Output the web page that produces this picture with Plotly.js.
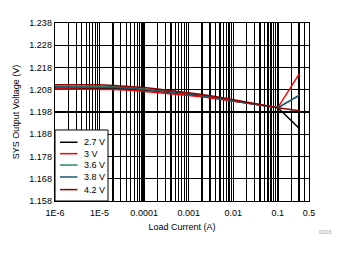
<!DOCTYPE html>
<html>
<head>
<meta charset="utf-8">
<script src="https://cdn.plot.ly/plotly-3.0.1.min.js"></script>
<style>html,body{margin:0;padding:0;background:#fff;}#chart{width:338px;height:254px;}</style>
</head>
<body>
<div id="chart"></div>
<script>
// Load current (A)
var current = [1e-6, 1e-5, 2e-5, 5e-5, 1e-4, 2e-4, 5e-4, 1e-3, 2e-3, 5e-3, 1e-2, 2e-2, 5e-2, 0.1, 0.3];
// SYS output voltage (V) per input voltage
var v27 = [1.2088,1.2088,1.2086,1.2083,1.2079,1.2073,1.2065,1.2058,1.2051,1.2040,1.2029,1.2020,1.2008,1.1999,1.1907];
var v30 = [1.2083,1.2083,1.2081,1.2078,1.2073,1.2068,1.2061,1.2054,1.2048,1.2037,1.2028,1.2019,1.2008,1.2000,1.2150];
var v36 = [1.2096,1.2096,1.2093,1.2089,1.2084,1.2078,1.2070,1.2063,1.2056,1.2044,1.2033,1.2022,1.2010,1.1999,1.2056];
var v38 = [1.2093,1.2093,1.2090,1.2087,1.2082,1.2076,1.2068,1.2061,1.2054,1.2042,1.2031,1.2021,1.2009,1.1999,1.2054];
var v42 = [1.2103,1.2103,1.2099,1.2095,1.2090,1.2083,1.2074,1.2067,1.2059,1.2046,1.2035,1.2024,1.2011,1.1999,1.1986];

var seriesNames = ['2.7 V', '3 V', '3.6 V', '3.8 V', '4.2 V'];
var seriesColors = ['#000000', '#ff0000', '#2e8b62', '#1f5a6e', '#8b0000'];
var seriesData = [v27, v30, v36, v38, v42];

var xMajorVals = [1e-6, 1e-5, 1e-4, 1e-3, 1e-2, 0.1, 0.5];
var xMajorText = ['1E-6', '1E-5', '0.0001', '0.001', '0.01', '0.1', '0.5'];

// build tick/grid values: every 1..9 multiple per decade, up to 0.5
var tickVals = [], tickText = [];
for (var d = -6; d <= -1; d++) {
  for (var m = 1; m <= 9; m++) {
    var v = m * Math.pow(10, d);
    if (v > 0.5 + 1e-9) break;
    tickVals.push(v);
    var idx = -1;
    for (var k = 0; k < xMajorVals.length; k++) if (Math.abs(xMajorVals[k] - v) / v < 1e-6) idx = k;
    tickText.push(idx >= 0 ? xMajorText[idx] : '');
    if (d === -1 && m === 5) break;
  }
}

var FONT = 'Liberation Sans, Arial, sans-serif';

var traces = seriesData.map(function (ys, i) {
  return {
    x: current, y: ys, type: 'scatter', mode: 'lines', name: seriesNames[i],
    line: {color: seriesColors[i], width: 1.5}, showlegend: false
  };
});

// manual compact legend (paper coords)
var shapes = [{type: 'rect', xref: 'paper', yref: 'paper', x0: 0, x1: 0.2087, y0: 0, y1: 0.399,
  line: {color: '#000', width: 1}, fillcolor: '#fff', layer: 'above'}];
var annotations = [];
var rowY = [0.330, 0.266, 0.202, 0.135, 0.064];
for (var i = 0; i < seriesNames.length; i++) {
  shapes.push({type: 'line', xref: 'paper', yref: 'paper', x0: 0.0197, x1: 0.0886, y0: rowY[i], y1: rowY[i],
    line: {color: seriesColors[i], width: 1.5}, layer: 'above'});
  annotations.push({xref: 'paper', yref: 'paper', x: 0.105, y: rowY[i], xanchor: 'left', yanchor: 'middle',
    text: seriesNames[i], showarrow: false, font: {family: FONT, size: 9, color: '#000'}});
}
annotations.push({xref: 'paper', yref: 'paper', x: 1.031, y: -0.174, xanchor: 'left', yanchor: 'middle',
  text: 'D003', showarrow: false, font: {family: FONT, size: 5, color: '#999'}});

var layout = {
  width: 338, height: 254,
  margin: {l: 55, r: 29, t: 23, b: 53},
  paper_bgcolor: '#fff', plot_bgcolor: '#fff',
  font: {family: FONT, size: 9, color: '#000'},
  xaxis: {
    type: 'log', range: [-6, Math.log10(0.5)],
    tickmode: 'array', tickvals: tickVals, ticktext: tickText,
    showgrid: true, gridcolor: '#000', gridwidth: 1.3,
    showline: true, linecolor: '#000', linewidth: 1.3, mirror: true,
    ticks: '', zeroline: false, ticklabelstandoff: 3,
    tickfont: {family: FONT, size: 9, color: '#000'},
    title: {text: 'Load Current (A)', font: {family: FONT, size: 9, color: '#000'}, standoff: 6}
  },
  yaxis: {
    range: [1.158, 1.238], tick0: 1.158, dtick: 0.01, tickformat: '.3f',
    showgrid: true, gridcolor: '#000', gridwidth: 1.3,
    showline: true, linecolor: '#000', linewidth: 1.3, mirror: true,
    ticks: '', zeroline: false,
    tickfont: {family: FONT, size: 9, color: '#000'},
    title: {text: 'SYS Output Voltage (V)', font: {family: FONT, size: 9, color: '#000'}, standoff: 8}
  },
  shapes: shapes,
  annotations: annotations,
  showlegend: false
};

Plotly.newPlot('chart', traces, layout, {staticPlot: true, displayModeBar: false});
</script>
</body>
</html>
